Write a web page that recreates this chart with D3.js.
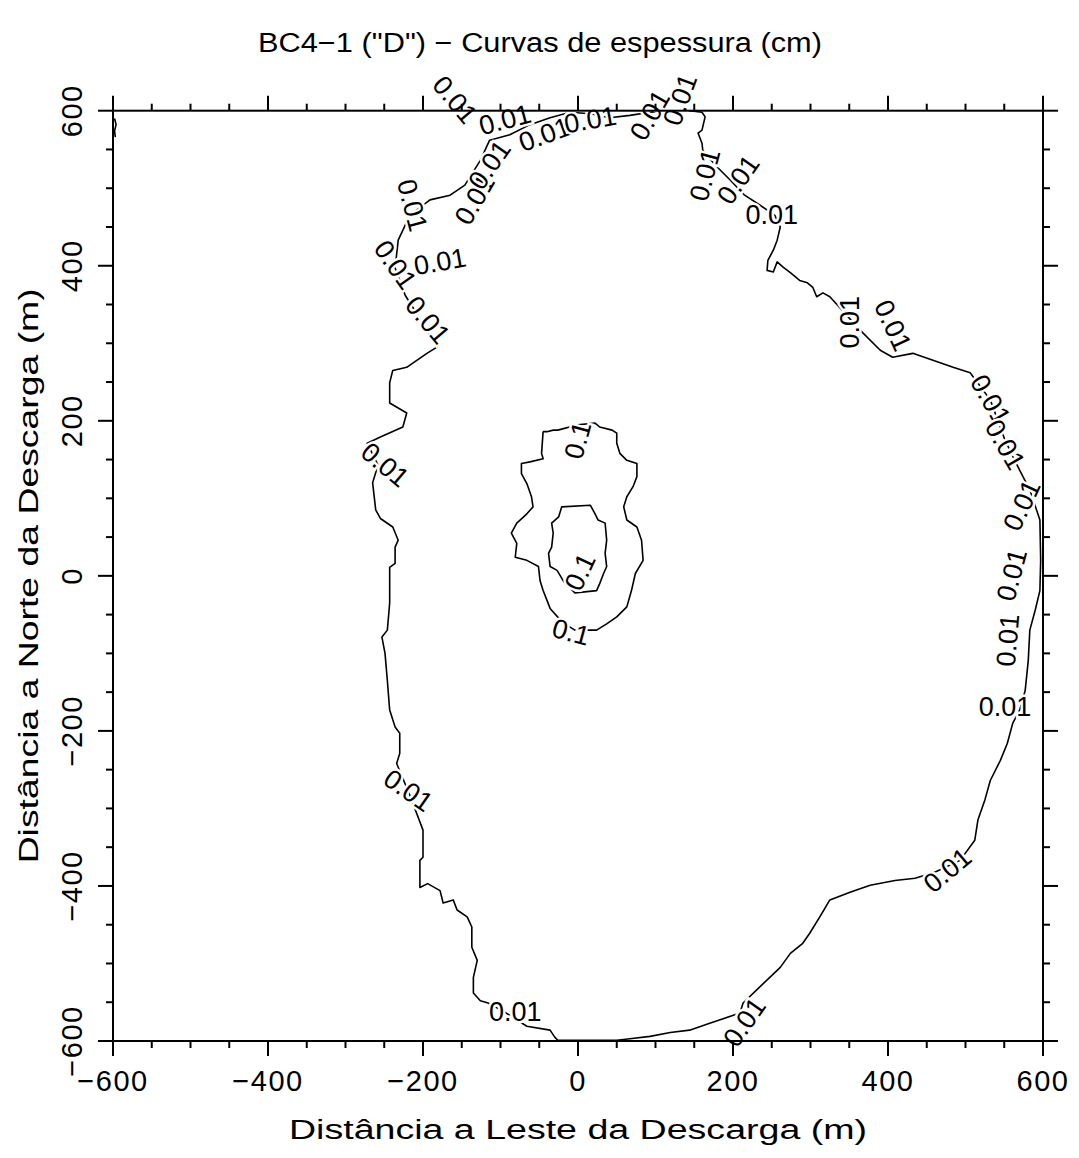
<!DOCTYPE html>
<html>
<head>
<meta charset="utf-8">
<script src="https://cdn.jsdelivr.net/npm/d3@7"></script>
<style>
  html, body { margin: 0; padding: 0; background: #fff; }
  svg { display: block; }
  text { font-family: "Liberation Sans", "DejaVu Sans", sans-serif; fill: #000; }
</style>
</head>
<body>
<div id="chart"></div>
<script>
// ---------------- DATA ----------------
const titleText = 'BC4\u22121 ("D") \u2212 Curvas de espessura (cm)';
const xTitle = "Dist\u00e2ncia a Leste da Descarga (m)";
const yTitle = "Dist\u00e2ncia a Norte da Descarga (m)";
const xTicks = [-600, -400, -200, 0, 200, 400, 600];
const yTicks = [-600, -400, -200, 0, 200, 400, 600];
const minorStep = 50;

// contour 0.01 cm (outer), data units [east m, north m]
const contour001 = [
  [160,598],[164,592],[160,575],[155,571],[160,558],[161,549],[177,530],[196,511],[215,491],[235,478],
  [254,465],[261,450],[257,433],[252,420],[245,407],[244,394],[252,392],[257,405],[265,398],[274,391],
  [286,381],[296,378],[303,372],[308,360],[316,365],[325,360],[364,317],[390,291],[406,282],[432,287],
  [458,278],[484,269],[506,262],[532,227],[551,175],[570,136],[583,111],[596,72],[597,20],[596,-19],
  [590,-44],[583,-70],[581,-109],[577,-148],[570,-173],[561,-190],[554,-216],[545,-238],[532,-264],[525,-289],
  [516,-315],[512,-341],[493,-367],[461,-382],[435,-390],[409,-393],[377,-399],[351,-408],[325,-418],[312,-440],
  [299,-461],[290,-474],[274,-487],[261,-505],[239,-526],[213,-551],[209,-564],[170,-577],[144,-586],[119,-589],
  [93,-594],[67,-597],[50,-599],[-26,-599],[-30,-595],[-36,-586],[-66,-581],[-94,-563],[-116,-551],[-126,-548],
  [-135,-538],[-135,-518],[-130,-496],[-137,-479],[-137,-453],[-143,-440],[-156,-431],[-161,-418],[-174,-422],[-178,-406],
  [-194,-397],[-204,-402],[-204,-367],[-200,-363],[-200,-328],[-217,-283],[-234,-242],[-230,-229],[-230,-203],[-236,-195],
  [-243,-173],[-246,-135],[-249,-100],[-253,-79],[-246,-70],[-243,-35],[-243,11],[-236,16],[-236,37],[-232,46],
  [-239,63],[-255,74],[-261,85],[-265,120],[-258,143],[-272,171],[-255,179],[-226,192],[-221,210],[-243,223],
  [-243,249],[-239,265],[-221,269],[-195,287],[-182,295],[-201,327],[-223,362],[-236,397],[-232,433],[-217,465],
  [-191,485],[-165,491],[-146,504],[-126,536],[-114,562],[-88,569],[-62,582],[-36,591],[-10,598],[16,596],
  [41,591],[67,594],[93,598],[119,600],[144,600],[160,598]
];
// small fragment on the western edge
const contourEdge = [[-598,590],[-596,582],[-598,574],[-597,566]];

// contour 0.1 cm (centre)
const contour01 = [
  [-45,186],[-47,158],[-45,151],[-62,147],[-73,145],[-73,132],[-66,119],[-60,102],[-58,89],[-66,80],
  [-79,68],[-86,55],[-79,42],[-81,24],[-66,20],[-51,12],[-49,-6],[-45,-19],[-36,-42],[-20,-60],
  [-4,-70],[24,-70],[37,-62],[50,-53],[63,-40],[69,-19],[74,3],[84,20],[82,46],[76,63],
  [63,72],[59,89],[63,102],[71,115],[76,128],[76,145],[63,149],[54,158],[50,171],[50,184],
  [44,188],[28,192],[22,197],[0,195],[-26,188],[-32,188],[-40,186],[-45,186]
];
// inner contour (centre)
const contourInner = [
  [-27,7],[-36,12],[-38,29],[-34,37],[-32,55],[-34,68],[-25,76],[-21,89],[16,91],[22,80],
  [26,72],[35,68],[37,46],[35,29],[37,12],[33,3],[28,-10],[24,-19],[-4,-22],[-18,-8],[-27,7]
];

// contour labels: text, position (data units), rotation (deg)
const labelText  = ["0.01","0.01","0.01","0.01","0.01","0.01","0.01","0.01","0.01","0.01",
                    "0.01","0.01","0.01","0.01","0.01","0.01","0.01","0.01","0.01","0.01",
                    "0.01","0.01","0.01","0.01","0.01","0.01","0.01","0.01",
                    "0.1","0.1","0.1"];
const labelEast  = [-159,-94,-43,16,93,132,164,207,250,351,
                    406,532,551,573,560,555,551,477,215,-81,
                    -219,-249,-194,-236,-214,-178,-133,-114,
                    0,-9,3];
const labelNorth = [614,588,569,588,594,614,517,511,465,327,
                    323,227,169,91,1,-83,-169,-380,-576,-563,
                    -277,143,330,401,478,405,485,530,
                    175,-73,5];
const labelAngle = [50,-15,-20,-10,-60,-70,-75,-55,0,-90,
                    65,60,60,-65,-75,-85,0,-40,-55,0,
                    35,40,50,55,75,-10,-60,-55,
                    -75,15,-65];

// ---------------- CHART ----------------
const W = 1079, H = 1158;
const svg = d3.select("#chart").append("svg").attr("width", W).attr("height", H);

const x = d3.scaleLinear().domain([-600, 600]).range([113, 1043]);
const y = d3.scaleLinear().domain([-600, 600]).range([1041, 110.7]);

const line = d3.line().x(d => x(d[0])).y(d => y(d[1]));

const gC = svg.append("g").attr("fill", "none").attr("stroke", "#000")
  .attr("stroke-width", 1.6).attr("stroke-linejoin", "round");
[contour001, contourEdge, contour01, contourInner].forEach(c => {
  gC.append("path").attr("d", line(c));
});

// labels (white halo breaks the line, GrADS style)
const gL = svg.append("g");
labelText.forEach((t, i) => {
  gL.append("text")
    .attr("transform", `translate(${x(labelEast[i])},${y(labelNorth[i])}) rotate(${labelAngle[i]})`)
    .attr("text-anchor", "middle")
    .attr("dominant-baseline", "central")
    .attr("font-size", 27)
    .attr("stroke", "#fff").attr("stroke-width", 5).attr("paint-order", "stroke")
    .text(t);
});

// frame and ticks
const gA = svg.append("g").attr("stroke", "#000").attr("stroke-width", 2).attr("fill", "none");
gA.append("rect").attr("x", x(-600)).attr("y", y(600))
  .attr("width", x(600) - x(-600)).attr("height", y(-600) - y(600));

const minor = d3.range(-600, 600 + 1, minorStep).filter(v => !xTicks.includes(v));
const majLen = 15, minLen = 7;
function ticks(vals, len) {
  vals.forEach(v => {
    gA.append("line").attr("x1", x(v)).attr("x2", x(v)).attr("y1", y(-600)).attr("y2", y(-600) + len);
    gA.append("line").attr("x1", x(v)).attr("x2", x(v)).attr("y1", y(600)).attr("y2", y(600) - len);
    gA.append("line").attr("y1", y(v)).attr("y2", y(v)).attr("x1", x(-600)).attr("x2", x(-600) - len);
    gA.append("line").attr("y1", y(v)).attr("y2", y(v)).attr("x1", x(600)).attr("x2", x(600) + len);
  });
}
ticks(xTicks, majLen);
ticks(minor, minLen);

const fmt = d3.format("d");
svg.append("g").selectAll("text").data(xTicks).join("text")
  .attr("x", d => x(d)).attr("y", y(-600) + 50)
  .attr("text-anchor", "middle").attr("font-size", 29).attr("letter-spacing", 1.5)
  .text(d => fmt(d));
svg.append("g").selectAll("text").data(yTicks).join("text")
  .attr("transform", d => `translate(82,${y(d)}) rotate(-90)`)
  .attr("text-anchor", "middle").attr("font-size", 29).attr("letter-spacing", 1.5)
  .text(d => fmt(d));

// titles (glyphs stretched to the wide stroke-font proportions of the original)
svg.append("text").attr("x", 540).attr("y", 52).attr("text-anchor", "middle")
  .attr("font-size", 27).attr("textLength", 564).attr("lengthAdjust", "spacingAndGlyphs").text(titleText);
svg.append("text").attr("x", 578).attr("y", 1139).attr("text-anchor", "middle")
  .attr("font-size", 27).attr("textLength", 578).attr("lengthAdjust", "spacingAndGlyphs").text(xTitle);
svg.append("text").attr("transform", `translate(38,${(y(600) + y(-600)) / 2}) rotate(-90)`)
  .attr("text-anchor", "middle")
  .attr("font-size", 27).attr("textLength", 575).attr("lengthAdjust", "spacingAndGlyphs").text(yTitle);
</script>
</body>
</html>
